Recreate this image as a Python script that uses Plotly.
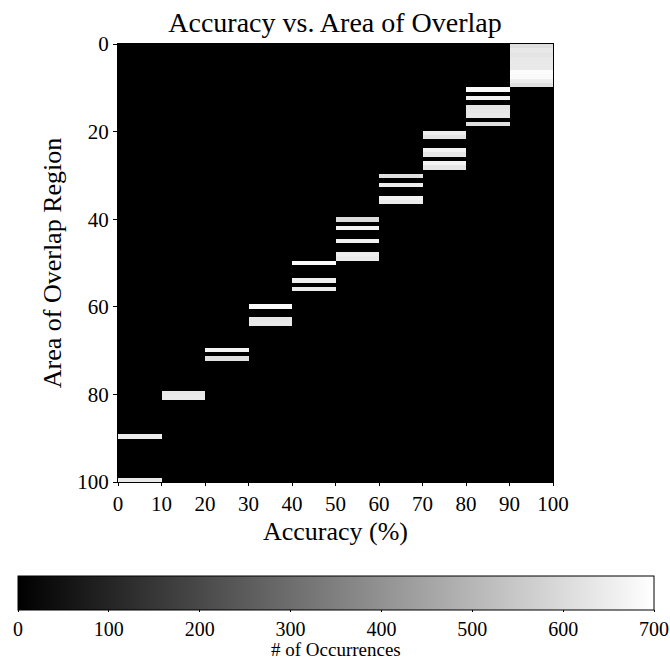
import numpy as np
import plotly.graph_objects as go

# Accuracy bins (%) -> column edges
accuracy_edges = [0, 10, 20, 30, 40, 50, 60, 70, 80, 90, 100]
n_rows = 101  # area-of-overlap rows 0..100

# Non-zero cells per accuracy bin: rows (area of overlap) and counts
acc_00_10_rows = [90, 100]
acc_00_10_counts = [650, 640]
acc_10_20_rows = [80, 81]
acc_10_20_counts = [640, 645]
acc_20_30_rows = [70, 72]
acc_20_30_counts = [670, 615]
acc_30_40_rows = [60, 63, 64]
acc_30_40_counts = [690, 635, 640]
acc_40_50_rows = [50, 54, 56]
acc_40_50_counts = [690, 660, 645]
acc_50_60_rows = [40, 42, 45, 48, 49]
acc_50_60_counts = [600, 670, 665, 650, 640]
acc_60_70_rows = [30, 32, 35, 36]
acc_60_70_counts = [615, 650, 665, 645]
acc_70_80_rows = [20, 21, 24, 25, 27, 28]
acc_70_80_counts = [650, 620, 665, 630, 670, 630]
acc_80_90_rows = [10, 12, 14, 15, 16, 18]
acc_80_90_counts = [690, 665, 625, 630, 640, 615]
acc_90_100_rows = [0, 1, 2, 3, 4, 5, 6, 7, 8, 9]
acc_90_100_counts = [610, 637, 626, 637, 640, 640, 692, 686, 653, 618]

columns = [
    (acc_00_10_rows, acc_00_10_counts),
    (acc_10_20_rows, acc_10_20_counts),
    (acc_20_30_rows, acc_20_30_counts),
    (acc_30_40_rows, acc_30_40_counts),
    (acc_40_50_rows, acc_40_50_counts),
    (acc_50_60_rows, acc_50_60_counts),
    (acc_60_70_rows, acc_60_70_counts),
    (acc_70_80_rows, acc_70_80_counts),
    (acc_80_90_rows, acc_80_90_counts),
    (acc_90_100_rows, acc_90_100_counts),
]

z = np.zeros((n_rows, len(columns)))
for ci, (rows, counts) in enumerate(columns):
    for r, c in zip(rows, counts):
        z[r, ci] = c

y_edges = np.linspace(0, 100, n_rows + 1)

FONT = "Liberation Serif"
PLOT_H = 438

fig = go.Figure(
    go.Heatmap(
        z=z,
        x=accuracy_edges,
        y=y_edges,
        zmin=0,
        zmax=700,
        colorscale=[[0, "black"], [1, "white"]],
        zsmooth=False,
        colorbar=dict(
            orientation="h",
            x=(336 - 118) / 435,
            xanchor="center",
            y=(482 - 576) / PLOT_H,
            yanchor="top",
            len=636,
            lenmode="pixels",
            thickness=34,
            thicknessmode="pixels",
            xpad=0,
            ypad=0,
            outlinecolor="black",
            outlinewidth=1,
            ticks="outside",
            ticklen=2,
            tickcolor="black",
            tickvals=[0, 100, 200, 300, 400, 500, 600, 700],
            tickfont=dict(family=FONT, size=20, color="black"),
        ),
    )
)

fig.update_layout(
    width=670,
    height=662,
    margin=dict(l=118, r=117, t=44, b=180, autoexpand=False),
    paper_bgcolor="white",
    plot_bgcolor="black",
    title=dict(text="Accuracy vs. Area of Overlap", x=0.5, xanchor="center",
               y=1 - 22 / 662, yanchor="middle",
               font=dict(family=FONT, size=28, color="black")),
    font=dict(family=FONT, color="black"),
    annotations=[dict(text="# of Occurrences", xref="paper", yref="paper",
                      x=(336 - 118) / 435, y=(482 - 649) / PLOT_H,
                      xanchor="center", yanchor="middle", showarrow=False,
                      font=dict(family=FONT, size=19, color="black"))],
)

fig.update_xaxes(
    range=[0, 100],
    tickvals=[0, 10, 20, 30, 40, 50, 60, 70, 80, 90, 100],
    ticks="outside", ticklen=3, tickcolor="black",
    showline=True, linecolor="black", linewidth=1, mirror=True,
    showgrid=False, zeroline=False,
    tickfont=dict(family=FONT, size=21),
    title=dict(text="Accuracy (%)", font=dict(family=FONT, size=26), standoff=6),
)
fig.update_yaxes(
    range=[100, 0],
    tickvals=[0, 20, 40, 60, 80, 100],
    ticks="outside", ticklen=4, tickcolor="black",
    showline=True, linecolor="black", linewidth=1, mirror=True,
    showgrid=False, zeroline=False,
    tickfont=dict(family=FONT, size=21),
    title=dict(text="Area of Overlap Region", font=dict(family=FONT, size=26), standoff=8),
)

fig.write_html("out.html", config={"displayModeBar": False},
               post_script="document.body.style.margin='0';")
